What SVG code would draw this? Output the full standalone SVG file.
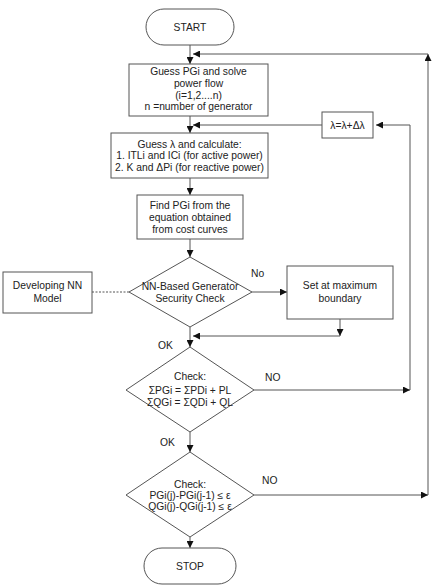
<svg xmlns="http://www.w3.org/2000/svg" width="433" height="588" viewBox="0 0 433 588">
<style>
.n{fill:#fff;stroke:#555;stroke-width:1}
.t{font-family:"Liberation Sans",Arial,sans-serif;font-size:10.3px;fill:#222;text-anchor:middle}
.l{font-family:"Liberation Sans",Arial,sans-serif;font-size:10.3px;fill:#222}
.c{fill:none;stroke:#555;stroke-width:1}
</style>
<defs>
<marker id="a" viewBox="0 0 10 10" refX="10" refY="5" markerWidth="7" markerHeight="7" orient="auto" markerUnits="userSpaceOnUse"><path d="M0,0 L10,5 L0,10 z" fill="#111"/></marker>
</defs>
<rect width="433" height="588" fill="#fff"/>
<g id="connectors">
<path class="c" d="M190,45 V64" marker-end="url(#a)"/>
<path class="c" d="M428,54 H193" marker-end="url(#a)"/>
<path class="c" d="M428,495 V54" marker-end="url(#a)"/>
<path class="c" d="M190,116 V133" marker-end="url(#a)"/>
<path class="c" d="M322,125 H193" marker-end="url(#a)"/>
<path class="c" d="M410,390 V125 H376" marker-end="url(#a)"/>
<path class="c" d="M190,178 V195" marker-end="url(#a)"/>
<path class="c" d="M190,239 V257" marker-end="url(#a)"/>
<path class="c" d="M92,292 H129" stroke-dasharray="2,1.5"/>
<path class="c" d="M252,292 H287" marker-end="url(#a)"/>
<path class="c" d="M340,319 V336" marker-end="url(#a)"/>
<path class="c" d="M340,336 H193" marker-end="url(#a)"/>
<path class="c" d="M190,327 V347" marker-end="url(#a)"/>
<path class="c" d="M254,390 H410" marker-end="url(#a)"/>
<path class="c" d="M190,432 V452" marker-end="url(#a)"/>
<path class="c" d="M254,495 H428" marker-end="url(#a)"/>
<path class="c" d="M190,537 V548" marker-end="url(#a)"/>
<text class="l" x="251" y="277">No</text>
<text class="l" x="158" y="349">OK</text>
<text class="l" x="265" y="381">NO</text>
<text class="l" x="160" y="446">OK</text>
<text class="l" x="262" y="484">NO</text>
</g>
<g id="start">
<rect class="n" x="146" y="9" width="88" height="36" rx="18"/>
<text class="t" x="190" y="30.5">START</text>
</g>
<g id="guess-pgi">
<rect class="n" x="129" y="64" width="139" height="52"/>
<text class="t" x="198.5" y="75">Guess PGi  and solve</text>
<text class="t" x="198.5" y="87">power flow</text>
<text class="t" x="198.5" y="98.5">(i=1,2....n)</text>
<text class="t" x="198.5" y="110">n =number of generator</text>
</g>
<g id="lambda-update">
<rect class="n" x="322" y="112" width="51" height="26"/>
<text class="t" x="347.5" y="128.5">λ=λ+Δλ</text>
</g>
<g id="guess-lambda">
<rect class="n" x="111" y="133" width="157" height="45"/>
<text class="t" x="189.5" y="147.5">Guess λ and calculate:</text>
<text class="t" x="189.5" y="159">1.  ITLi and ICi (for active power)</text>
<text class="t" x="189.5" y="171">2. K and ΔPi (for reactive power)</text>
</g>
<g id="find-pgi">
<rect class="n" x="137" y="195" width="106" height="44"/>
<text class="t" x="190" y="208.5">Find PGi from the</text>
<text class="t" x="190" y="221">equation obtained</text>
<text class="t" x="190" y="232.5">from cost curves</text>
</g>
<g id="nn-model">
<rect class="n" x="3" y="272" width="89" height="41"/>
<text class="t" x="47.5" y="289">Developing NN</text>
<text class="t" x="47.5" y="302">Model</text>
</g>
<g id="nn-check">
<polygon class="n" points="190,257 252,292 190,327 129,292"/>
<text class="t" x="190" y="290">NN-Based Generator</text>
<text class="t" x="190" y="302">Security Check</text>
</g>
<g id="set-max">
<rect class="n" x="287" y="266" width="106" height="53"/>
<text class="t" x="340" y="289">Set at maximum</text>
<text class="t" x="340" y="302">boundary</text>
</g>
<g id="check-balance">
<polygon class="n" points="190,347 254,390 190,432 126,390"/>
<text class="t" x="190" y="380">Check:</text>
<text class="t" x="190" y="393.5">ΣPGi = ΣPDi + PL</text>
<text class="t" x="190" y="406">ΣQGi = ΣQDi + QL</text>
</g>
<g id="check-conv">
<polygon class="n" points="190,452 254,495 190,537 126,495"/>
<text class="t" x="190" y="487.5">Check:</text>
<text class="t" x="190" y="498.5">PGi(j)-PGi(j-1) ≤ ε</text>
<text class="t" x="190" y="510">QGi(j)-QGi(j-1) ≤ ε</text>
</g>
<g id="stop">
<rect class="n" x="144" y="548" width="92" height="36" rx="18"/>
<text class="t" x="190" y="570">STOP</text>
</g>
</svg>
